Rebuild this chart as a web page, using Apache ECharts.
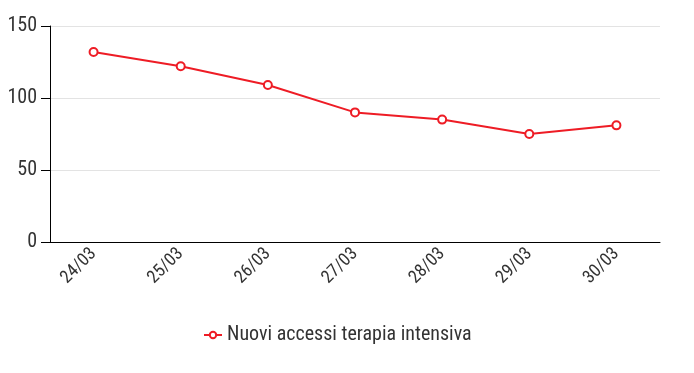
<!DOCTYPE html>
<html><head><meta charset="utf-8">
<script src="https://cdn.jsdelivr.net/npm/echarts@6/dist/echarts.min.js"></script>
<style>html,body{margin:0;padding:0;background:#fff}#c{width:694px;height:373px}</style>
</head><body><div id="c"></div>
<script>
const categories = ['24/03','25/03','26/03','27/03','28/03','29/03','30/03'];
const values = [132, 122, 109, 90, 85, 75, 81];
const seriesName = 'Nuovi accessi terapia intensiva';
const yMin = 0, yMax = 150, yStep = 50;

const font = '"Roboto Condensed","Liberation Sans Narrow","DejaVu Sans Condensed",Roboto';
const chart = echarts.init(document.getElementById('c'), null, {renderer:'canvas'});
chart.setOption({
  animation:false,
  grid:{left:50,right:34,top:26,bottom:131,containLabel:false},
  legend:{bottom:23,left:198,itemWidth:18,itemHeight:8,itemGap:10,
    textStyle:{fontFamily:font,fontSize:20,color:'#333'},data:[seriesName]},
  xAxis:{type:'category',data:categories,boundaryGap:true,
    axisLine:{lineStyle:{color:'#000',width:1}},
    axisTick:{alignWithLabel:true,length:9,lineStyle:{color:'#000'}},
    axisLabel:{rotate:45,fontFamily:font,fontSize:18,color:'#333',margin:9}},
  yAxis:{type:'value',min:yMin,max:yMax,interval:yStep,
    axisLine:{show:true,lineStyle:{color:'#000'}},
    axisTick:{show:true,length:9,lineStyle:{color:'#000'}},
    splitLine:{lineStyle:{color:'#e3e3e3'}},
    axisLabel:{fontFamily:font,fontSize:20,color:'#333',margin:13}},
  series:[{name:seriesName,type:'line',data:values,color:'#ee1c25',
    symbol:'emptyCircle',symbolSize:8,lineStyle:{width:2},itemStyle:{borderWidth:2}}]
});
</script></body></html>
